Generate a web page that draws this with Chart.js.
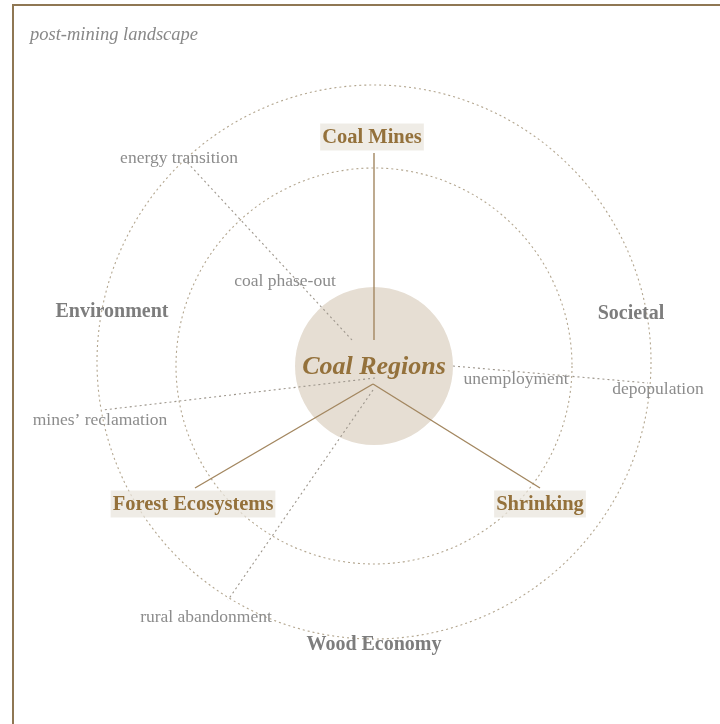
<!DOCTYPE html>
<html>
<head>
<meta charset="utf-8">
<script src="https://cdn.jsdelivr.net/npm/chart.js@4.4.1/dist/chart.umd.min.js"></script>
<style>
  html, body { margin: 0; padding: 0; background: #ffffff; }
  #wrap { position: relative; width: 720px; height: 724px; overflow: hidden; }
  #frame { position: absolute; left: 12px; top: 4px; width: 720px; height: 724px;
           border-left: 2px solid #8f7753; border-top: 2px solid #8f7753; pointer-events: none; }
  canvas { position: absolute; left: 0; top: 0; }
</style>
</head>
<body>
<div id="wrap">
  <canvas id="c" width="720" height="724"></canvas>
  <div id="frame"></div>
</div>
<script>
// ---------- data (diagram coordinates, origin = "Coal Regions" hub, y up) ----------
const titleText = 'post-mining landscape';

// concept nodes
const nodeLabels = ['Coal Regions', 'Coal Mines', 'Forest Ecosystems', 'Shrinking',
                    'Environment', 'Societal', 'Wood Economy',
                    'energy transition', 'coal phase-out', 'unemployment', 'depopulation',
                    'mines\u2019 reclamation', 'rural abandonment'];
const nodeKinds  = ['hub', 'theme', 'theme', 'theme',
                    'domain', 'domain', 'domain',
                    'term', 'term', 'term', 'term', 'term', 'term'];
const nodeX = [0, -2, -181, 166, -262, 257, 0, -195, -89, 142, 284, -274, -168];
const nodeY = [0, 229, -138, -138, 55, 53, -278, 209, 86, -12, -22, -53, -250];

// rings (hub disk, inner ring, outer ring)
const ringRadius  = [79, 198, 277];
const ringCenterY = [0, 0, 4];

// solid spokes: hub -> theme
const spokeNames  = ['Coal Mines', 'Forest Ecosystems', 'Shrinking'];
const spokeFromX  = [0, -1, -1];
const spokeFromY  = [26, -18, -18];
const spokeToX    = [0, -179, 166];
const spokeToY    = [213, -122, -122];

// dashed links: hub -> outer terms
const linkNames = ['energy transition', 'mines\u2019 reclamation', 'depopulation', 'rural abandonment'];
const linkFromX = [-22, 1, 79, -1];
const linkFromY = [26, -12, 0, -24];
const linkToX   = [-189, -271, 274, -146];
const linkToY   = [206, -44, -17, -234];

// ---------- styles ----------
const BROWN = '#94713b';
const SPOKE = '#a38760';
const GREY_BOLD = '#7d7d7d';
const GREY = '#8c8c8c';
const SERIF = '"Liberation Serif", "DejaVu Serif", serif';

const datasets = [];
spokeNames.forEach((n, i) => {
  datasets.push({
    label: n, showLine: true, pointRadius: 0, borderColor: SPOKE, borderWidth: 1.4,
    data: [{x: spokeFromX[i], y: spokeFromY[i]}, {x: spokeToX[i], y: spokeToY[i]}]
  });
});
linkNames.forEach((n, i) => {
  datasets.push({
    label: n, showLine: true, pointRadius: 0, borderColor: '#9d968c', borderWidth: 1.1,
    borderDash: [2, 3],
    data: [{x: linkFromX[i], y: linkFromY[i]}, {x: linkToX[i], y: linkToY[i]}]
  });
});

const ringPlugin = {
  id: 'rings',
  beforeDatasetsDraw(chart) {
    const {ctx, scales: {x, y}} = chart;
    const px = v => x.getPixelForValue(v);
    const py = v => y.getPixelForValue(v);
    ctx.save();
    ringRadius.forEach((r, i) => {
      const cx = px(0), cy = py(ringCenterY[i]);
      const rp = px(r) - px(0);
      ctx.beginPath();
      ctx.arc(cx, cy, rp, 0, Math.PI * 2);
      if (i === 0) {
        ctx.fillStyle = '#e6ded3';
        ctx.fill();
      } else {
        ctx.setLineDash([2, 3]);
        ctx.strokeStyle = '#b3a68f';
        ctx.lineWidth = 1.1;
        ctx.stroke();
        ctx.setLineDash([]);
      }
    });
    ctx.restore();
  }
};

const labelPlugin = {
  id: 'labels',
  afterDatasetsDraw(chart) {
    const {ctx, scales: {x, y}} = chart;
    ctx.save();
    ctx.textAlign = 'center';
    ctx.textBaseline = 'middle';
    nodeLabels.forEach((t, i) => {
      const cx = x.getPixelForValue(nodeX[i]);
      const cy = y.getPixelForValue(nodeY[i]);
      const k = nodeKinds[i];
      if (k === 'hub') {
        ctx.font = 'italic bold 26px ' + SERIF;
        ctx.fillStyle = BROWN;
      } else if (k === 'theme') {
        ctx.font = 'bold 20.5px ' + SERIF;
        const w = ctx.measureText(t).width;
        ctx.fillStyle = 'rgba(233,229,220,0.72)';
        ctx.fillRect(cx - w / 2 - 2, cy - 13.5, w + 4, 27);
        ctx.fillStyle = BROWN;
      } else if (k === 'domain') {
        ctx.font = 'bold 20px ' + SERIF;
        ctx.fillStyle = GREY_BOLD;
      } else {
        ctx.font = '17.5px ' + SERIF;
        ctx.fillStyle = GREY;
      }
      ctx.fillText(t, cx, cy + 1);
    });
    // title
    ctx.textAlign = 'left';
    ctx.textBaseline = 'alphabetic';
    ctx.font = 'italic 18.5px ' + SERIF;
    ctx.fillStyle = '#888888';
    ctx.fillText(titleText, 30, 40);
    ctx.restore();
  }
};

new Chart(document.getElementById('c'), {
  type: 'scatter',
  data: { datasets },
  options: {
    responsive: false,
    devicePixelRatio: 1,
    animation: false,
    layout: { padding: 0 },
    plugins: { legend: { display: false }, tooltip: { enabled: false }, title: { display: false } },
    scales: {
      x: { type: 'linear', min: -374, max: 346, display: false },
      y: { type: 'linear', min: -358, max: 366, display: false }
    },
    elements: { line: { tension: 0 } }
  },
  plugins: [ringPlugin, labelPlugin]
});
</script>
</body>
</html>
